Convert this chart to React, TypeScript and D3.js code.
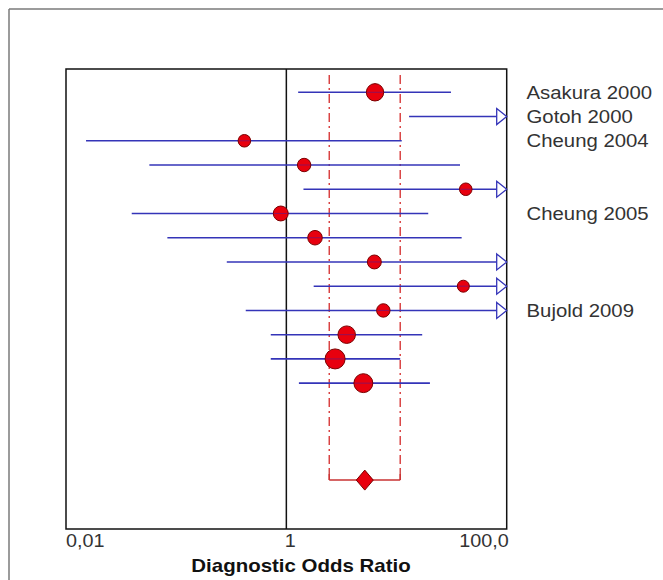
import React from "react";
import * as d3 from "d3";

// ---- Data ----
const studies = [
  "Asakura 2000", "Gotoh 2000", "Cheung 2004", "", "", "Cheung 2005", "",
  "", "", "Bujold 2009", "", "", "",
];
const dor: (number | null)[] = [6.38, null, 0.416, 1.45, 42.5, 0.89, 1.82, 6.29, 40.4, 7.59, 3.53, 2.77, 5.0];
const ciLow = [1.28, 13.0, 0.0152, 0.0571, 1.43, 0.0395, 0.0832, 0.288, 1.77, 0.428, 0.722, 0.722, 1.3];
const ciHigh = [31.2, 1000, 11.15, 37.7, 1000, 19.4, 39.0, 1000, 1000, 1000, 17.1, 10.8, 20.1];
const weights = [10.7, 0, 5.6, 6.4, 5.6, 7.9, 7.5, 6.9, 5.1, 6.4, 10.9, 14.2, 12.7];
const pooled = { est: 5.15, low: 2.45, high: 10.8 };
const pooledRow = 16;
const tickValues = [0.01, 1, 100];
const tickLabels = ["0,01", "1", "100,0"];
const axisTitle = "Diagnostic Odds Ratio";

export default function App() {
  const W = 663, H = 580;
  const left = 66, right = 506.7, top = 69, bottom = 529;
  const x = d3.scaleLog().domain([0.01, 100]).range([left, right]);
  const y = d3.scaleLinear().domain([0, pooledRow]).range([92.3, 480.1]);
  const r = d3.scaleSqrt().domain([0, 14.2]).range([0, 10]);
  const FONT = "'Liberation Sans', Arial, sans-serif";
  const blue = "#3434b8";
  const arrowW = 10, arrowH = 8;
  const sx = 1.1;

  const textAt = (tx: number, ty: number, s: string, anchor: string, props: any = {}) => (
    <g transform={`translate(${tx},${ty}) scale(${sx},1)`}>
      <text x={0} y={0} textAnchor={anchor} fontFamily={FONT} {...props}>{s}</text>
    </g>
  );

  const dashed = "9,4,2,4";

  return (
    <svg width={W} height={H} style={{ position: "absolute", left: 0, top: 0, background: "#fff" }}>
      {/* outer frame (top + left visible) */}
      <line x1={9} y1={9} x2={W} y2={9} stroke="#7a7a7a" strokeWidth={1.5} />
      <line x1={9} y1={9} x2={9} y2={H} stroke="#7a7a7a" strokeWidth={1.5} />

      {/* plot box */}
      <rect x={left} y={top} width={right - left} height={bottom - top} fill="none" stroke="#111" strokeWidth={1.5} />
      {/* line of no effect */}
      <line x1={x(1)} y1={top} x2={x(1)} y2={bottom} stroke="#111" strokeWidth={1.5} />

      {/* pooled CI bracket */}
      <line x1={x(pooled.low)} y1={top + 6} x2={x(pooled.low)} y2={y(pooledRow)} stroke="#d42a2a" strokeWidth={1.3} strokeDasharray={dashed} />
      <line x1={x(pooled.high)} y1={top + 6} x2={x(pooled.high)} y2={y(pooledRow)} stroke="#d42a2a" strokeWidth={1.3} strokeDasharray={dashed} />
      <line x1={x(pooled.low)} y1={y(pooledRow)} x2={x(pooled.high)} y2={y(pooledRow)} stroke="#c83232" strokeWidth={1.5} />
      <line x1={x(pooled.low)} y1={y(pooledRow) - 10} x2={x(pooled.low)} y2={y(pooledRow)} stroke="#c83232" strokeWidth={1.3} />
      <line x1={x(pooled.high)} y1={y(pooledRow) - 10} x2={x(pooled.high)} y2={y(pooledRow)} stroke="#c83232" strokeWidth={1.3} />

      {/* study CIs */}
      {ciLow.map((lo, i) => {
        const yy = y(i);
        const over = ciHigh[i] > 100;
        const x1 = x(Math.max(lo, 0.01));
        const x2 = over ? right - arrowW : x(ciHigh[i]);
        return (
          <g key={"ci" + i}>
            <line x1={x1} y1={yy} x2={x2} y2={yy} stroke={blue} strokeWidth={1.6} />
            {over && (
              <path
                d={`M${right - arrowW},${yy - arrowH}L${right},${yy}L${right - arrowW},${yy + arrowH}Z`}
                fill="#fff"
                stroke={blue}
                strokeWidth={1.3}
              />
            )}
          </g>
        );
      })}

      {/* study points */}
      {dor.map((v, i) =>
        v == null ? null : (
          <g key={"pt" + i}>
            <circle cx={x(v)} cy={y(i)} r={r(weights[i])} fill="#e8000e" stroke="#7a0000" strokeWidth={1} />
            <line x1={x(v) - r(weights[i]) + 1} y1={y(i)} x2={x(v) + r(weights[i]) - 1} y2={y(i)} stroke="#5a1a8a" strokeWidth={1} opacity={0.6} />
          </g>
        )
      )}

      {/* pooled diamond */}
      <path
        d={`M${x(pooled.est) - 8.5},${y(pooledRow)}L${x(pooled.est)},${y(pooledRow) - 10}L${x(pooled.est) + 8.5},${y(pooledRow)}L${x(pooled.est)},${y(pooledRow) + 10}Z`}
        fill="#e8000e"
        stroke="#7a0000"
        strokeWidth={1}
      />

      {/* study labels */}
      {studies.map((s, i) =>
        s ? <g key={"lb" + i}>{textAt(526.5, y(i) + 6.5, s, "start", { fontSize: 18.5, fill: "#333" })}</g> : null
      )}

      {/* tick labels */}
      {tickValues.map((t, i) => {
        const anchor = i === 0 ? "start" : i === tickValues.length - 1 ? "end" : "start";
        const tx = i === 0 ? x(t) : i === tickValues.length - 1 ? x(t) + 2 : x(t) - 1.5;
        return <g key={"tk" + i}>{textAt(tx, 547, tickLabels[i], anchor, { fontSize: 18, fill: "#333" })}</g>;
      })}

      {/* axis title */}
      {textAt(301, 571.5, axisTitle, "middle", { fontSize: 18.6, fontWeight: "bold", fill: "#111" })}
    </svg>
  );
}
